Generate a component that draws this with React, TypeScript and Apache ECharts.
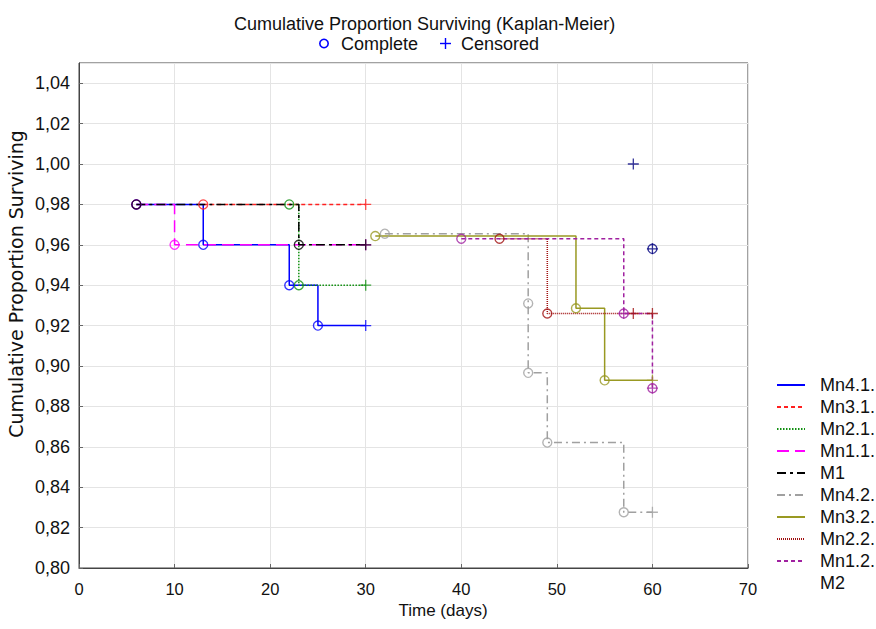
import React, { useEffect, useRef } from 'react';
import * as echarts from 'echarts';

// Kaplan-Meier events: [time (days), cumulative proportion surviving, kind] kind 1 = complete, 0 = censored
const seriesNames = ['Mn4.1.', 'Mn3.1.', 'Mn2.1.', 'Mn1.1.', 'M1', 'Mn4.2.', 'Mn3.2.', 'Mn2.2.', 'Mn1.2.', 'M2'];

const mn41 = [[6, 0.98, 1], [13, 0.96, 1], [22, 0.94, 1], [25, 0.92, 1], [30, 0.92, 0]];
const mn31 = [[13, 0.98, 1], [30, 0.98, 0]];
const mn21 = [[22, 0.98, 1], [23, 0.94, 1], [30, 0.94, 0]];
const mn11 = [[6, 0.98, 1], [10, 0.96, 1], [30, 0.96, 0]];
const m1 = [[6, 0.98, 1], [23, 0.96, 1], [30, 0.96, 0]];
const mn42 = [[32, 0.9655, 1], [47, 0.931, 1], [47, 0.8966, 1], [49, 0.8621, 1], [57, 0.8276, 1], [60, 0.8276, 0]];
const mn32 = [[31, 0.9643, 1], [52, 0.9286, 1], [55, 0.8929, 1], [60, 0.8929, 0]];
const mn22 = [[44, 0.963, 1], [49, 0.926, 1], [58, 0.926, 0], [60, 0.926, 0]];
const mn12 = [[40, 0.963, 1], [57, 0.926, 1], [57, 0.926, 0], [60, 0.889, 1], [60, 0.889, 0]];
const m2 = [[58, 1.0, 0], [60, 0.958, 1], [60, 0.958, 0]];

const allEvents = [mn41, mn31, mn21, mn11, m1, mn42, mn32, mn22, mn12, m2];

const xTicks = { min: 0, max: 70, interval: 10 };
const yTicks = { min: 0.8, max: 1.05, interval: 0.02 };

const titleText = 'Cumulative Proportion Surviving (Kaplan-Meier)';
const yName = 'Cumulative Proportion Surviving';
const xName = 'Time (days)';
const markerLegend = ['Complete', 'Censored'];

const colors = ['#0000ff', '#ff2020', '#109010', '#ff00ff', '#000000', '#a0a0a0', '#999922', '#a01010', '#a020a0', '#000080'];
const dashes: any[] = ['solid', [4, 3], [1.5, 1.5], [12, 6], [9, 4, 3, 4], [8, 4, 2, 4], 'solid', [1, 1], [4, 3], 'solid'];
const showLine = [true, true, true, true, true, true, true, true, true, false];

const PLUS = 'path://M0,6 L12,6 M6,0 L6,12';
const FONT = 'Liberation Sans, Arial, sans-serif';

function stepPoints(ev: number[][]) {
  if (!ev.length) return [];
  const pts: number[][] = [[ev[0][0], ev[0][1]]];
  for (let i = 1; i < ev.length; i++) {
    pts.push([ev[i][0], ev[i - 1][1]]);
    pts.push([ev[i][0], ev[i][1]]);
  }
  return pts;
}

export default function App() {
  const ref = useRef<HTMLDivElement>(null);
  useEffect(() => {
    if (!ref.current) return;
    const chart = echarts.init(ref.current, undefined, { renderer: 'svg' });
    const series: any[] = [];
    seriesNames.forEach((name, i) => {
      series.push({
        type: 'line',
        name,
        data: showLine[i] ? stepPoints(allEvents[i]) : [],
        symbol: 'none',
        color: showLine[i] ? colors[i] : 'transparent',
        lineStyle: {
          color: showLine[i] ? colors[i] : 'transparent',
          width: showLine[i] ? 1.5 : 0,
          type: dashes[i],
        },
        z: 2,
      });
    });
    seriesNames.forEach((name, i) => {
      series.push({
        type: 'scatter',
        name: name + ' complete',
        data: allEvents[i].filter((e) => e[2] === 1).map((e) => [e[0], e[1]]),
        symbol: 'circle',
        symbolSize: 9,
        itemStyle: { color: 'rgba(255,255,255,0)', borderColor: colors[i], borderWidth: 1.4 },
        z: 3,
      });
      series.push({
        type: 'scatter',
        name: name + ' censored',
        data: allEvents[i].filter((e) => e[2] === 0).map((e) => [e[0], e[1]]),
        symbol: PLUS,
        symbolSize: 11,
        itemStyle: { color: 'rgba(255,255,255,0)', borderColor: colors[i], borderWidth: 1.3 },
        z: 3,
      });
    });

    chart.setOption({
      animation: false,
      backgroundColor: '#ffffff',
      textStyle: { fontFamily: FONT },
      title: {
        text: titleText,
        left: 229,
        top: 10,
        textStyle: { fontFamily: FONT, fontSize: 18, fontWeight: 'normal', color: '#111' },
      },
      legend: {
        data: seriesNames,
        orient: 'vertical',
        left: 776,
        top: 376,
        padding: 0,
        itemWidth: 28,
        itemHeight: 14,
        itemGap: 4,
        selectedMode: false,
        itemStyle: { opacity: 0 },
        textStyle: { fontFamily: FONT, fontSize: 18, color: '#111', padding: [0, 0, 0, 10], lineHeight: 18, overflow: 'none' },
      },
      graphic: [
        { type: 'circle', shape: { cx: 324, cy: 43.5, r: 4.2 }, style: { fill: 'none', stroke: '#0000ff', lineWidth: 1.6 } },
        { type: 'text', x: 341, y: 44, style: { text: markerLegend[0], font: '18px ' + FONT, fill: '#111', verticalAlign: 'middle' } },
        { type: 'line', shape: { x1: 440, y1: 43.5, x2: 451, y2: 43.5 }, style: { stroke: '#0000ff', lineWidth: 1.4 } },
        { type: 'line', shape: { x1: 445.5, y1: 38, x2: 445.5, y2: 49 }, style: { stroke: '#0000ff', lineWidth: 1.4 } },
        { type: 'text', x: 461, y: 44, style: { text: markerLegend[1], font: '18px ' + FONT, fill: '#111', verticalAlign: 'middle' } },
        {
          type: 'text',
          x: 16,
          y: 284,
          rotation: Math.PI / 2,
          style: { text: yName, font: '19px DejaVu Sans, ' + FONT, fill: '#111', align: 'center', verticalAlign: 'middle' },
        },
        {
          type: 'text',
          x: 443,
          y: 610,
          style: { text: xName, font: '17px ' + FONT, fill: '#111', align: 'center', verticalAlign: 'middle' },
        },
      ],
      grid: { left: 79, right: 128, top: 63, bottom: 61, show: true, borderColor: '#444', borderWidth: 1, backgroundColor: 'transparent' },
      xAxis: {
        type: 'value',
        min: xTicks.min,
        max: xTicks.max,
        interval: xTicks.interval,
        axisLine: { show: true, lineStyle: { color: '#444' } },
        axisTick: { show: true, inside: true, length: 4, lineStyle: { color: '#666' } },
        axisLabel: { fontFamily: FONT, fontSize: 16.5, color: '#111', margin: 12 },
        splitLine: { show: true, lineStyle: { color: '#e4e4e4', width: 1 } },
      },
      yAxis: {
        type: 'value',
        min: yTicks.min,
        max: yTicks.max,
        interval: yTicks.interval,
        axisLine: { show: true, lineStyle: { color: '#444' } },
        axisTick: { show: true, inside: true, length: 4, lineStyle: { color: '#666' } },
        axisLabel: {
          fontFamily: FONT,
          fontSize: 18,
          color: '#111',
          margin: 9,
          showMaxLabel: false,
          formatter: (v: number) => (Math.abs(v - yTicks.max) < 1e-6 ? '' : v.toFixed(2).replace('.', ',')),
        },
        splitLine: { show: true, lineStyle: { color: '#e4e4e4', width: 1 } },
      },
      series,
    });
    return () => chart.dispose();
  }, []);
  return <div ref={ref} style={{ position: 'fixed', left: 0, top: 0, width: 876, height: 629 }} />;
}
